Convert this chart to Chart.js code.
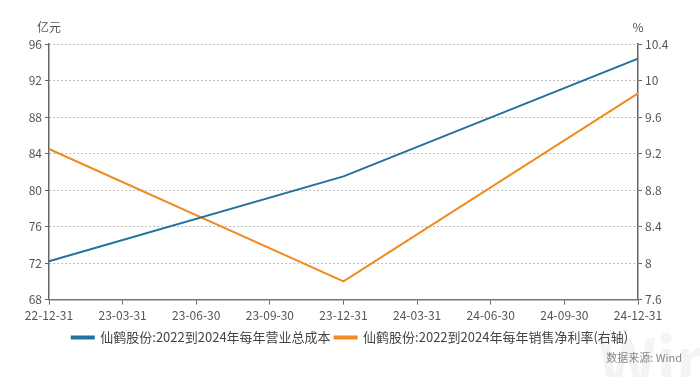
<!DOCTYPE html>
<html>
<head>
<meta charset="utf-8">
<script src="https://cdn.jsdelivr.net/npm/chart.js@4/dist/chart.umd.min.js"></script>
<style>
  html, body { margin: 0; padding: 0; background: #fff; }
  #box { position: relative; width: 700px; height: 377px; }
</style>
</head>
<body>
<div id="box"><canvas id="myChart" width="700" height="377"></canvas></div>
<script>
// 横軸の日付
var labels = ["22-12-31", "23-03-31", "23-06-30", "23-09-30", "23-12-31", "24-03-31", "24-06-30", "24-09-30", "24-12-31"];
// 営業総コスト(億元) 年末のみ
var costData = [72.2, null, null, null, 81.5, null, null, null, 94.4];
// 純利益率(%) 右軸
var marginData = [9.25, null, null, null, 7.8, null, null, null, 9.86];
var costName = "仙鹤股份:2022到2024年每年营业总成本";
var marginName = "仙鹤股份:2022到2024年每年销售净利率(右轴)";

var font = "'Noto Sans CJK SC', 'Open Sans', sans-serif";

// 軸タイトル・出典・透かしを描く
var extraText = {
  id: "extraText",
  beforeDraw: function(chart) {
    var c = chart.ctx;
    c.save();
    c.fillStyle = "#f4f4f4";
    c.font = "bold 64px " + font;
    c.textAlign = "left";
    c.textBaseline = "alphabetic";
    c.fillText("Win.d", 598, 385);
    c.restore();
  },
  afterDraw: function(chart) {
    var c = chart.ctx;
    var a = chart.chartArea;
    c.save();
    c.fillStyle = "#555";
    c.font = "12px " + font;
    c.textBaseline = "middle";
    c.textAlign = "center";
    c.fillText("亿元", a.left, 27);
    c.fillText("%", a.right, 27);
    c.fillStyle = "#888";
    c.font = "11px " + font;
    c.textAlign = "right";
    c.fillText("数据来源: Wind", 682, 358);
    c.restore();
  }
};

var ctx = document.getElementById("myChart").getContext("2d");
var myChart = new Chart(ctx, {
  type: "line",
  data: {
    labels: labels,
    datasets: [{
      label: costName,
      data: costData,
      borderColor: "#21729c",
      backgroundColor: "#21729c",
      borderWidth: 2,
      pointRadius: 0,
      spanGaps: true,
      tension: 0,
      yAxisID: "y"
    }, {
      label: marginName,
      data: marginData,
      borderColor: "#f08b22",
      backgroundColor: "#f08b22",
      borderWidth: 2,
      pointRadius: 0,
      spanGaps: true,
      tension: 0,
      yAxisID: "y1"
    }]
  },
  options: {
    responsive: false,
    animation: false,
    layout: { padding: { left: 0, right: 0, top: 44, bottom: 23 } },
    plugins: {
      tooltip: { enabled: false },
      legend: {
        position: "bottom",
        labels: {
          font: { size: 13, family: font },
          color: "#444",
          boxWidth: 22,
          boxHeight: 2,
          padding: 4
        }
      }
    },
    scales: {
      x: {
        offset: false,
        grid: { drawOnChartArea: false, drawTicks: true, tickLength: 5, color: "#666" },
        border: { display: true, color: "#777", width: 1.5 },
        ticks: { color: "#555", font: { size: 12, family: font }, maxRotation: 0, autoSkip: false, padding: 4 }
      },
      y: {
        position: "left",
        min: 68, max: 96,
        ticks: { stepSize: 4, color: "#555", font: { size: 12, family: font }, padding: 3 },
        grid: { color: "#aaa", tickLength: 4, tickColor: "#666" },
        border: { display: true, color: "#666", width: 1.5, dash: [1.5, 2.5] },
        afterFit: function(s) { s.width = 49; }
      },
      y1: {
        position: "right",
        min: 7.6, max: 10.4,
        ticks: {
          stepSize: 0.4, color: "#555", font: { size: 12, family: font }, padding: 3,
          callback: function(v) { return String(Number(v.toFixed(1))); }
        },
        grid: { drawOnChartArea: false, tickLength: 4, color: "#666" },
        border: { display: true, color: "#666", width: 1.5 },
        afterFit: function(s) { s.width = 62; }
      }
    }
  },
  plugins: [extraText]
});
</script>
</body>
</html>
